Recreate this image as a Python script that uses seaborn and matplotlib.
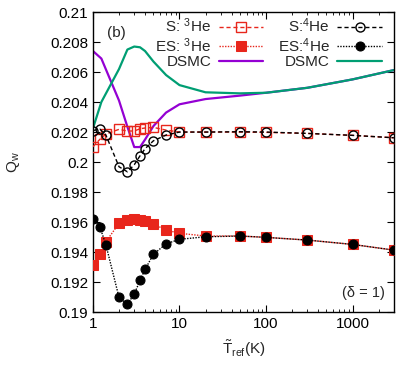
import numpy as np
import pandas as pd
import matplotlib
matplotlib.use("Agg")
import matplotlib.pyplot as plt
import seaborn as sns
from matplotlib.ticker import FixedLocator, FuncFormatter, LogLocator, NullFormatter

# ---------------- data ----------------
T_sim = [1, 1.2, 1.41, 2, 2.5, 3, 3.5, 4, 5, 7, 10, 20, 50, 100, 300, 1000, 3000]

S_3He = [0.20102, 0.20151, 0.20187, 0.20218, 0.20207, 0.20207, 0.20222, 0.20227,
         0.20231, 0.20213, 0.20200, 0.20200, 0.20200, 0.20198, 0.20191, 0.20178, 0.20162]
ES_3He = [0.19313, 0.19387, 0.19469, 0.19591, 0.19613, 0.19620, 0.19617, 0.19609,
          0.19587, 0.19547, 0.19525, 0.19507, 0.19507, 0.19498, 0.19480, 0.19451, 0.19413]
S_4He = [0.20210, 0.20220, 0.20180, 0.19969, 0.19935, 0.19982, 0.20042, 0.20089,
         0.20142, 0.20180, 0.20200, 0.20200, 0.20202, 0.20200, 0.20191, 0.20178, 0.20162]
ES_4He = [0.19620, 0.19569, 0.19449, 0.19098, 0.19053, 0.19120, 0.19211, 0.19285,
          0.19385, 0.19455, 0.19485, 0.19502, 0.19507, 0.19498, 0.19480, 0.19451, 0.19413]

T_dsmc = [1, 1.25, 2, 2.5, 3, 3.5, 4, 5, 7, 10, 20, 50, 100, 300, 1000, 3000]
DSMC_3He = [0.2074, 0.2069, 0.2041, 0.20235, 0.2010, 0.2010, 0.2015, 0.2024, 0.2033,
            0.20385, 0.2042, 0.20443, 0.20462, 0.20495, 0.20551, 0.20613]
DSMC_4He = [0.20225, 0.2040, 0.2062, 0.2075, 0.2077, 0.20765, 0.2074, 0.2067, 0.2058,
            0.20513, 0.20465, 0.20458, 0.20462, 0.20495, 0.20551, 0.20613]

y_ticks = [0.19, 0.192, 0.194, 0.196, 0.198, 0.2, 0.202, 0.204, 0.206, 0.208, 0.21]
x_ticks = [1, 10, 100, 1000]
x_ticklabels = ["1", "10", "100", "1000"]

# ---------------- style ----------------
sns.set_theme(style="ticks")
plt.rcParams['font.family'] = ['Liberation Sans', 'DejaVu Sans']
plt.rcParams['mathtext.fontset'] = 'custom'
plt.rcParams['mathtext.rm'] = 'Liberation Sans'
plt.rcParams['mathtext.it'] = 'Liberation Sans:italic'
FS = 11

RED = "#e8261c"
BLACK = "#000000"
PURPLE = "#9400d3"
GREEN = "#009e73"
MS = 6.5

fig = plt.figure(figsize=(3.99, 3.65), dpi=100)
ax = fig.add_axes([0.233, 0.145, 0.754, 0.822])

# DSMC curves
sns.lineplot(x=T_dsmc, y=DSMC_3He, ax=ax, color=PURPLE, lw=1.6, sort=False,
             label="DSMC", zorder=2)
sns.lineplot(x=T_dsmc, y=DSMC_4He, ax=ax, color=GREEN, lw=1.6, sort=False,
             label="DSMC", zorder=2.1)

# 3He
sns.lineplot(x=T_sim, y=S_3He, ax=ax, color=RED, lw=1.0, linestyle=(0, (3, 2)),
             marker='s', markersize=MS, markerfacecolor='none', markeredgecolor=RED,
             markeredgewidth=1.0, sort=False, label="S: $^{3}$He", zorder=3)
sns.lineplot(x=T_sim, y=ES_3He, ax=ax, color=RED, lw=1.0, linestyle=(0, (1, 1)),
             marker='s', markersize=MS, markerfacecolor=RED, markeredgecolor=RED,
             sort=False, label="ES: $^{3}$He", zorder=3.1)
# 4He
sns.lineplot(x=T_sim, y=S_4He, ax=ax, color=BLACK, lw=1.0, linestyle=(0, (3, 2)),
             marker='o', markersize=MS, markerfacecolor='none', markeredgecolor=BLACK,
             markeredgewidth=1.0, sort=False, label="S:$^{4}$He", zorder=4)
sns.lineplot(x=T_sim, y=ES_4He, ax=ax, color=BLACK, lw=1.0, linestyle=(0, (1, 1)),
             marker='o', markersize=MS, markerfacecolor=BLACK, markeredgecolor=BLACK,
             sort=False, label="ES:$^{4}$He", zorder=4.1)

ax.set_xscale('log')
ax.set_xlim(1, 3000)
ax.set_ylim(0.19, 0.21)

ax.xaxis.set_major_locator(FixedLocator(x_ticks))
ax.xaxis.set_major_formatter(FuncFormatter(lambda v, p: x_ticklabels[x_ticks.index(v)] if v in x_ticks else ""))
ax.xaxis.set_minor_locator(LogLocator(base=10, subs=np.arange(2, 10), numticks=20))
ax.xaxis.set_minor_formatter(NullFormatter())
ax.yaxis.set_major_locator(FixedLocator(y_ticks))
ax.yaxis.set_major_formatter(FuncFormatter(lambda v, p: f"{v:g}"))

ax.tick_params(which='both', direction='in', top=True, right=True, labelsize=FS,
               colors='black')
ax.tick_params(which='major', length=5, width=0.8)
ax.tick_params(which='minor', length=2.5, width=0.6)
for s in ax.spines.values():
    s.set_color('black')
    s.set_linewidth(1.0)

ax.set_ylabel("Q$_{\\rm w}$", fontsize=FS, labelpad=20)
ax.set_xlabel("$\\tilde{\\rm T}_{\\rm ref}$(K)", fontsize=FS, labelpad=5)

ax.text(0.045, 0.955, "(b)", transform=ax.transAxes, fontsize=FS, ha='left', va='top')
ax.text(0.97, 0.04, "(δ = 1)", transform=ax.transAxes, fontsize=FS - 0.5, ha='right', va='bottom')

h, l = ax.get_legend_handles_labels()
order = [2, 3, 0, 4, 5, 1]
ax.legend([h[i] for i in order], [l[i] for i in order], ncol=2, markerfirst=False,
          frameon=False, loc='upper right', bbox_to_anchor=(0.975, 1.0),
          fontsize=FS, handlelength=2.9,
          handletextpad=0.5, columnspacing=0.95, labelspacing=0.05,
          borderaxespad=0.1, borderpad=0.2, alignment='right')

fig.savefig("out.png", dpi=100)
